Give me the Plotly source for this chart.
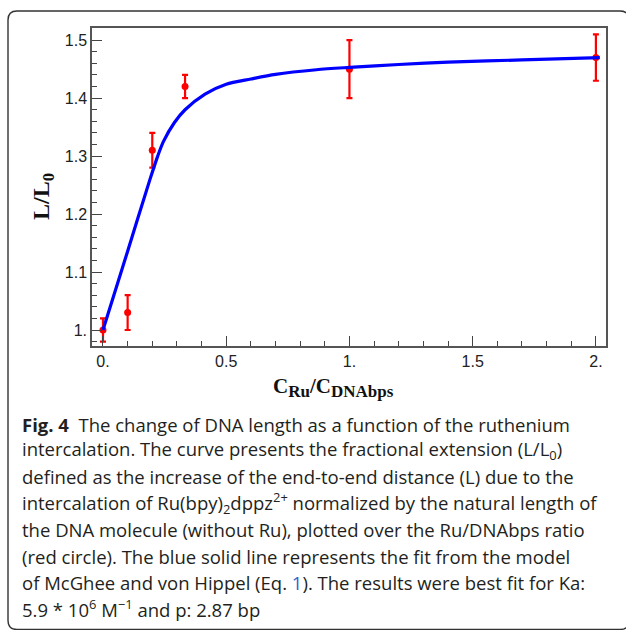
import plotly.graph_objects as go

# ---------------- data ----------------
ratio = [0.0, 0.1, 0.2, 0.333, 1.0, 2.0]
ext = [1.0, 1.03, 1.31, 1.42, 1.45, 1.47]
ext_err = [0.02, 0.03, 0.03, 0.02, 0.05, 0.04]

fit_x = [0.0, 0.1, 0.19, 0.222, 0.245, 0.29, 0.333, 0.414, 0.5, 0.6, 0.7, 0.866, 1.0, 1.2, 1.4, 1.7, 2.016]
fit_y = [1.0, 1.136, 1.259, 1.30, 1.325, 1.358, 1.38, 1.407, 1.424, 1.433, 1.441, 1.449, 1.453, 1.458, 1.462, 1.466, 1.470]

x_tickvals = [0, 0.5, 1.0, 1.5, 2.0]
x_ticktext = ["0.", "0.5", "1.", "1.5", "2."]
y_tickvals = [1.0, 1.1, 1.2, 1.3, 1.4, 1.5]
y_ticktext = ["1.", "1.1", "1.2", "1.3", "1.4", "1.5"]

caption_lines = [
    "<b>Fig. 4</b>  The change of DNA length as a function of the ruthenium",
    "intercalation. The curve presents the fractional extension (L/L<sub>0</sub>)",
    "defined as the increase of the end-to-end distance (L) due to the",
    "intercalation of Ru(bpy)<sub>2</sub>dppz<sup>2+</sup> normalized by the natural length of",
    "the DNA molecule (without Ru), plotted over the Ru/DNAbps ratio",
    "(red circle). The blue solid line represents the fit from the model",
    "of McGhee and von Hippel (Eq. <span style='color:#3a5fcd'>1</span>). The results were best fit for Ka:",
    "5.9 * 10<sup>6</sup> M<sup>\u22121</sup> and p: 2.87 bp",
]

# ---------------- layout geometry (pixels) ----------------
W, H = 626, 630
PL, PR, PT, PB = 92, 606, 28, 346


def px(x):
    return (x - PL) / (PR - PL)


def py(y):
    return (PB - y) / (PB - PT)


fig = go.Figure()

fig.add_trace(go.Scatter(
    x=ratio, y=ext, mode="markers",
    marker=dict(color="#ff0000", size=7),
    error_y=dict(type="data", array=ext_err, color="#ff0000", thickness=2.2, width=3),
    showlegend=False,
))

fig.add_trace(go.Scatter(
    x=fit_x, y=fit_y, mode="lines",
    line=dict(color="#0000ff", width=3.2, shape="spline", smoothing=0.8),
    showlegend=False,
))

axis_common = dict(
    showline=True, mirror=True, linecolor="#555555", linewidth=1.5,
    ticks="inside", ticklen=10, tickwidth=1.3, tickcolor="#444444",
    showgrid=False, zeroline=False,
    tickfont=dict(family="Liberation Sans, Arial", size=16, color="#222222"),
)

fig.update_xaxes(
    range=[-0.0446, 2.041], tickmode="array", tickvals=x_tickvals, ticktext=x_ticktext,
    minor=dict(dtick=0.1, ticks="inside", ticklen=5, tickwidth=1.2, tickcolor="#444444", showgrid=False),
    **axis_common,
)
fig.update_yaxes(
    range=[0.9724, 1.521], tickmode="array", tickvals=y_tickvals, ticktext=y_ticktext,
    minor=dict(dtick=0.02, ticks="inside", ticklen=5, tickwidth=1.2, tickcolor="#444444", showgrid=False),
    **axis_common,
)

annotations = []
# axis titles
annotations.append(dict(
    xref="paper", yref="paper", x=px(271), y=py(387), xanchor="left", yanchor="middle",
    text="<b>C<sub><span style='font-size:17px'>Ru</span></sub>/C<sub><span style='font-size:17px'>DNAbps</span></sub></b>",
    showarrow=False, font=dict(family="Liberation Serif, Times New Roman", size=21, color="#111111"),
))
annotations.append(dict(
    xref="paper", yref="paper", x=px(43), y=py(197), xanchor="center", yanchor="middle",
    text="<b>L/L<sub>0</sub></b>", textangle=-90,
    showarrow=False, font=dict(family="Liberation Serif, Times New Roman", size=24, color="#111111"),
))

# caption
for i, line in enumerate(caption_lines):
    annotations.append(dict(
        xref="paper", yref="paper", x=px(20), y=py(424 + 26.4 * i), xanchor="left", yanchor="middle",
        text=line, showarrow=False,
        font=dict(family="Open Sans", size=18.5, color="#231f20"),
    ))

# outer rounded box
L, T, R, B, r = 8, 11, 629, 629.5, 9
path = (
    f"M {px(L)},{py(T + r)} Q {px(L)},{py(T)} {px(L + r)},{py(T)} "
    f"L {px(R - r)},{py(T)} Q {px(R)},{py(T)} {px(R)},{py(T + r)} "
    f"L {px(R)},{py(B - r)} Q {px(R)},{py(B)} {px(R - r)},{py(B)} "
    f"L {px(L + r)},{py(B)} Q {px(L)},{py(B)} {px(L)},{py(B - r)} Z"
)

fig.update_layout(
    width=W, height=H,
    margin=dict(l=PL, r=W - PR, t=PT, b=H - PB, pad=0),
    paper_bgcolor="white", plot_bgcolor="white",
    annotations=annotations,
    shapes=[dict(type="path", xref="paper", yref="paper", path=path,
                 line=dict(color="#333333", width=1.4), layer="below")],
)

fig.write_html("out.html", config={"displayModeBar": False},
               post_script="document.body.style.margin='0';")
